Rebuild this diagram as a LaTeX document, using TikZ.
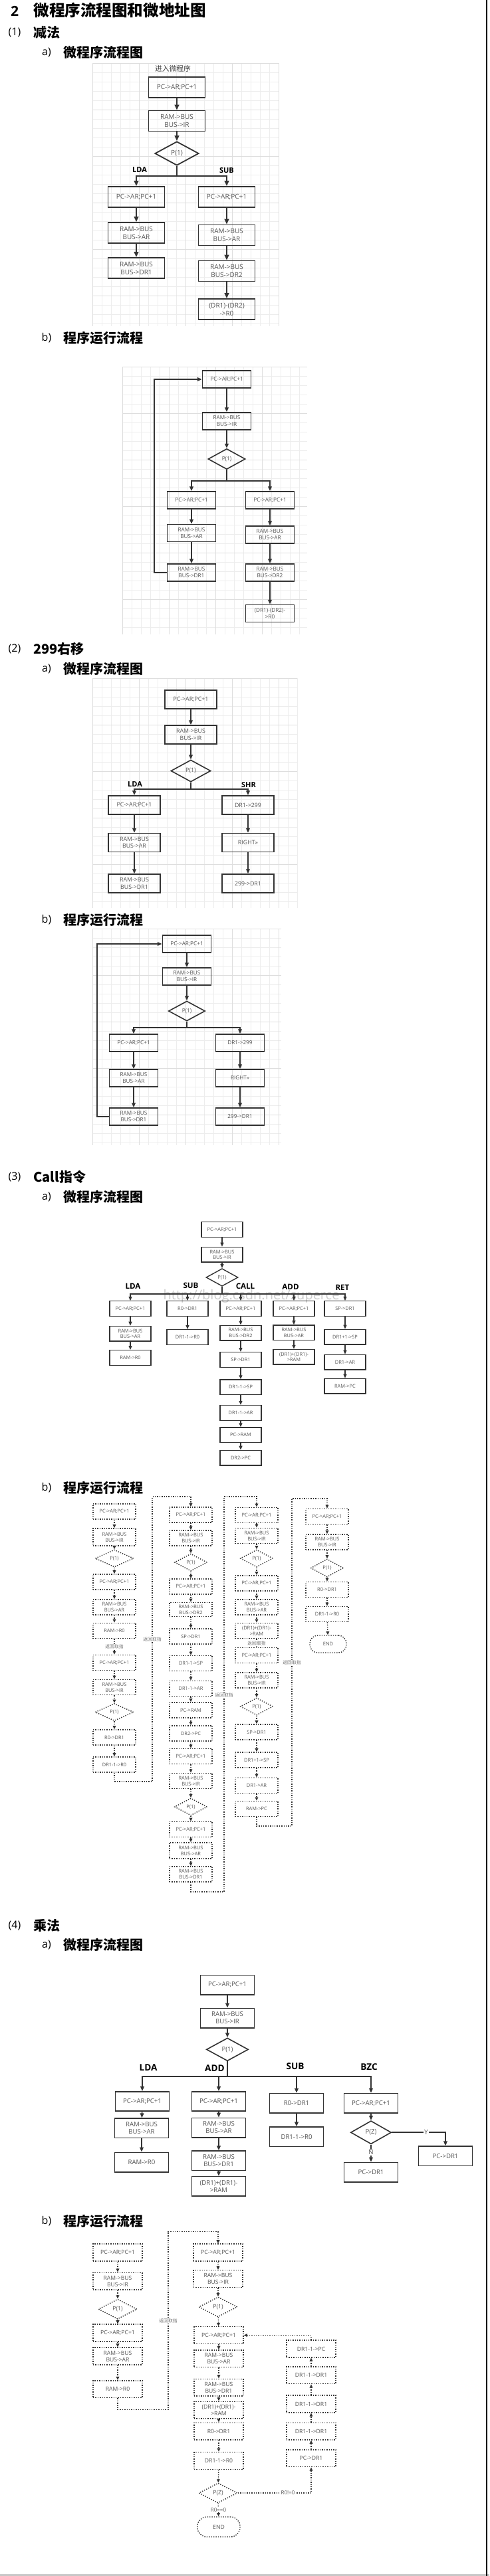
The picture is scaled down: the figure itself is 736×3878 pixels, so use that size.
\documentclass[tikz,border=0pt]{standalone}
\usepackage{fontspec}
\setmainfont{Open Sans}
\newfontfamily\cjk{Noto Sans CJK SC}
\usetikzlibrary{shapes.geometric,arrows.meta}
\definecolor{boxc}{HTML}{333333}
\definecolor{txtc}{HTML}{555555}
\newcommand\mygrid[5]{%
 \pgfmathsetmacro\gxa{#1+#5}\pgfmathsetmacro\gya{#2+#5}%
 \foreach \gx in {#1,\gxa,...,#3} \draw[black!7,line width=0.3pt] (\gx,#2) -- (\gx,#4);%
 \foreach \gy in {#2,\gya,...,#4} \draw[black!7,line width=0.3pt] (#1,\gy) -- (#3,\gy);%
 \pgfmathsetmacro\gxb{#1+5*#5}\pgfmathsetmacro\gyb{#2+5*#5}%
 \foreach \gx in {#1,\gxb,...,#3} \draw[black!13,line width=0.4pt] (\gx,#2) -- (\gx,#4);%
 \foreach \gy in {#2,\gyb,...,#4} \draw[black!13,line width=0.4pt] (#1,\gy) -- (#3,\gy);%
}
\tikzset{
 bx/.style={rectangle,draw=boxc,text=txtc,align=center,inner sep=0pt},
 dm/.style={diamond,draw=boxc,text=txtc,align=center,inner sep=0pt},
 ln/.style={draw=boxc},
 arA/.style={draw=boxc,line width=0.9pt,-{Triangle[length=4pt,width=3.4pt]}},
 arB/.style={draw=boxc,line width=0.8pt,-{Triangle[length=3.4pt,width=2.8pt]}},
 arC/.style={draw=boxc,line width=0.6pt,-{Triangle[length=3pt,width=2.5pt]}},
 arD/.style={draw=boxc,line width=0.7pt,densely dotted,-{Triangle[length=2.6pt,width=2.3pt]}},
 lnD/.style={draw=boxc,line width=0.7pt,densely dotted},
 sa/.style={bx,line width=0.9pt,minimum width=42.5pt,minimum height=15.5pt,font=\fontsize{5}{6}\selectfont},
 sad/.style={dm,line width=0.9pt,minimum width=33pt,minimum height=18pt,font=\fontsize{5}{6}\selectfont},
 sb/.style={bx,line width=0.8pt,minimum width=36.5pt,minimum height=13pt,font=\fontsize{4.1}{5}\selectfont},
 sbd/.style={dm,line width=0.8pt,minimum width=28pt,minimum height=15.5pt,font=\fontsize{4.1}{5}\selectfont},
 sc/.style={bx,line width=0.8pt,minimum width=39pt,minimum height=14pt,font=\fontsize{4.4}{5.3}\selectfont},
 scd/.style={dm,line width=0.8pt,minimum width=30pt,minimum height=16.5pt,font=\fontsize{4.4}{5.3}\selectfont},
 sd/.style={bx,line width=0.7pt,minimum width=31pt,minimum height=11.3pt,font=\fontsize{3.7}{4.2}\selectfont},
 sdd/.style={dm,line width=0.7pt,minimum width=24pt,minimum height=13.3pt,font=\fontsize{3.7}{4.2}\selectfont},
 se/.style={bx,line width=0.7pt,densely dotted,minimum width=32pt,minimum height=11.5pt,font=\fontsize{3.7}{4.5}\selectfont},
 sed/.style={dm,line width=0.7pt,densely dotted,minimum width=24.5pt,minimum height=13pt,font=\fontsize{3.7}{4.5}\selectfont},
 sf/.style={bx,line width=0.8pt,minimum width=40.5pt,minimum height=14.7pt,font=\fontsize{4.8}{5.5}\selectfont},
 sfd/.style={dm,line width=0.8pt,minimum width=31.5pt,minimum height=17.3pt,font=\fontsize{4.8}{5.5}\selectfont},
 sg/.style={bx,line width=0.7pt,densely dotted,minimum width=37pt,minimum height=12.9pt,font=\fontsize{4.3}{5}\selectfont},
 sgd/.style={dm,line width=0.7pt,densely dotted,minimum width=29pt,minimum height=15pt,font=\fontsize{4.3}{5}\selectfont},
 labA/.style={font=\bfseries\fontsize{5.5}{6}\selectfont,text=black},
 labB/.style={font=\bfseries\fontsize{5.8}{6.5}\selectfont,text=black},
 labC/.style={font=\bfseries\fontsize{6.8}{7.5}\selectfont,text=black},
 back/.style={font=\cjk\fontsize{3.4}{4}\selectfont,text=black!55,fill=white,inner sep=0.5pt},
 small/.style={font=\fontsize{4.3}{5}\selectfont,text=txtc,fill=white,inner sep=0.5pt},
 hnum/.style={font=\fontsize{8}{9}\selectfont,text=black,inner sep=0pt},
 hcj/.style={font=\cjk\bfseries\fontsize{10}{11}\selectfont,text=black,anchor=west,inner sep=0pt},
}
\begin{document}
\begin{tikzpicture}[x=0.5pt,y=-0.5pt]
\useasboundingbox (0,0) rectangle (736,3878);
\fill[white] (0,0) rectangle (736,3878);

% ===== headings =====
\node[font=\bfseries\fontsize{10.5}{11}\selectfont] (h0n) at (22,17) {2};
\node[font=\cjk\bfseries\fontsize{11.8}{12}\selectfont,anchor=west,inner sep=0pt] (h0) at (50,15) {微程序流程图和微地址图};
\node[hnum] (h1n) at (22,49) {(1)};
\node[hcj] (h1) at (50,49) {减法};
\node[hnum] (h1an) at (70,79) {a)};
\node[hcj] (h1a) at (95,79) {微程序流程图};
\node[hnum] (h1bn) at (70,509) {b)};
\node[hcj] (h1b) at (95,509) {程序运行流程};
\node[hnum] (h2n) at (22,977) {(2)};
\node[hcj] (h2) at (50,977) {299右移};
\node[hnum] (h2an) at (70,1007) {a)};
\node[hcj] (h2a) at (95,1007) {微程序流程图};
\node[hnum] (h2bn) at (70,1385) {b)};
\node[hcj] (h2b) at (95,1385) {程序运行流程};
\node[hnum] (h3n) at (22,1772) {(3)};
\node[hcj] (h3) at (50,1772) {Call指令};
\node[hnum] (h3an) at (70,1802) {a)};
\node[hcj] (h3a) at (95,1802) {微程序流程图};
\node[hnum] (h3bn) at (70,2240) {b)};
\node[hcj] (h3b) at (95,2240) {程序运行流程};
\node[hnum] (h4n) at (22,2899) {(4)};
\node[hcj] (h4) at (50,2899) {乘法};
\node[hnum] (h4an) at (70,2928) {a)};
\node[hcj] (h4a) at (95,2928) {微程序流程图};
\node[hnum] (h4bn) at (70,3344) {b)};
\node[hcj] (h4b) at (95,3344) {程序运行流程};

% ===== (1) a =====
\mygrid{139}{95}{419}{491}{14}
\node[font=\cjk\fontsize{5.4}{6}\selectfont,text=black!75] (in1) at (260,103) {进入微程序};
\node[sa] (a1) at (266,131.5) {PC->AR;PC+1};
\node[sa] (b1) at (266,182) {RAM->BUS\\BUS->IR};
\node[sad] (d1) at (266,231) {P(1)};
\node[sa] (l11) at (205,296.5) {PC->AR;PC+1};
\node[sa] (l12) at (205,350.5) {RAM->BUS\\BUS->AR};
\node[sa] (l13) at (205,403.5) {RAM->BUS\\BUS->DR1};
\node[sa] (r11) at (341,296.5) {PC->AR;PC+1};
\node[sa] (r12) at (341,354) {RAM->BUS\\BUS->AR};
\node[sa] (r13) at (341,408) {RAM->BUS\\BUS->DR2};
\node[sa] (r14) at (341,465.5) {(DR1)-(DR2)\\->R0};
\node[labA] (lda1) at (210,256) {LDA};
\node[labA] (sub1) at (341,257) {SUB};
\coordinate (j1) at (266,265);
\draw[arA] (a1) -- (b1);
\draw[arA] (b1) -- (d1);
\draw[ln,line width=0.9pt] (d1) -- (j1);
\draw[arA] (j1) -| (l11);
\draw[arA] (j1) -| (r11);
\draw[arA] (l11) -- (l12);
\draw[arA] (l12) -- (l13);
\draw[arA] (r11) -- (r12);
\draw[arA] (r12) -- (r13);
\draw[arA] (r13) -- (r14);

% ===== (1) b =====
\mygrid{184}{552}{462}{955}{14}
\node[sb] (a1b) at (341,571) {PC->AR;PC+1};
\node[sb] (b1b) at (341,634) {RAM->BUS\\BUS->IR};
\node[sbd] (d1b) at (341,691) {P(1)};
\node[sb] (l1b1) at (288,753) {PC->AR;PC+1};
\node[sb] (l1b2) at (288,802.5) {RAM->BUS\\BUS->AR};
\node[sb] (l1b3) at (288,862) {RAM->BUS\\BUS->DR1};
\node[sb] (r1b1) at (406,753) {PC->AR;PC+1};
\node[sb] (r1b2) at (406,805) {RAM->BUS\\BUS->AR};
\node[sb] (r1b3) at (406,862) {RAM->BUS\\BUS->DR2};
\node[sb] (r1b4) at (406,923.5) {(DR1)-(DR2)-\\>R0};
\coordinate (j1b) at (341,724);
\draw[arB] (a1b) -- (b1b);
\draw[arB] (b1b) -- (d1b);
\draw[ln,line width=0.8pt] (d1b) -- (j1b);
\draw[arB] (j1b) -| (l1b1);
\draw[arB] (j1b) -| (r1b1);
\draw[arB] (l1b1) -- (l1b2);
\draw[arB] (l1b2) -- (l1b3);
\draw[arB] (r1b1) -- (r1b2);
\draw[arB] (r1b2) -- (r1b3);
\draw[arB] (r1b3) -- (r1b4);
\draw[arB] (l1b3.west) -- ++(-19,0) |- (a1b.west);

% ===== (2) a =====
\mygrid{139}{1021}{447}{1367}{14}
\node[sc] (a2) at (287,1053) {PC->AR;PC+1};
\node[sc] (b2) at (287,1106) {RAM->BUS\\BUS->IR};
\node[scd] (d2) at (287,1160.5) {P(1)};
\node[sc] (l21) at (202,1212) {PC->AR;PC+1};
\node[sc] (l22) at (202,1268.5) {RAM->BUS\\BUS->AR};
\node[sc] (l23) at (202,1330) {RAM->BUS\\BUS->DR1};
\node[sc] (r21) at (373,1212) {DR1->299};
\node[sc] (r22) at (373,1268.5) {RIGHT>>};
\node[sc] (r23) at (373,1330) {299->DR1};
\node[labA] (lda2) at (203,1181) {LDA};
\node[labA] (shr2) at (374,1182) {SHR};
\coordinate (j2) at (287,1188);
\draw[arB] (a2) -- (b2);
\draw[arB] (b2) -- (d2);
\draw[ln,line width=0.8pt] (d2) -- (j2);
\draw[arB] (j2) -| (l21);
\draw[arB] (j2) -| (r21);
\draw[arB] (l21) -- (l22);
\draw[arB] (l22) -- (l23);
\draw[arB] (r21) -- (r22);
\draw[arB] (r22) -- (r23);

% ===== (2) b =====
\mygrid{139}{1398}{423}{1724}{14}
\node[sb] (a2b) at (281,1421) {PC->AR;PC+1};
\node[sb] (b2b) at (281,1470) {RAM->BUS\\BUS->IR};
\node[sbd,minimum width=27.5pt,minimum height=15pt] (d2b) at (281,1522) {P(1)};
\node[sb] (l2b1) at (201,1570) {PC->AR;PC+1};
\node[sb] (l2b2) at (201,1623) {RAM->BUS\\BUS->AR};
\node[sb] (l2b3) at (201,1681) {RAM->BUS\\BUS->DR1};
\node[sb] (r2b1) at (361,1570) {DR1->299};
\node[sb] (r2b2) at (361,1623) {RIGHT>>};
\node[sb] (r2b3) at (361,1681) {299->DR1};
\coordinate (j2b) at (281,1547);
\draw[arB] (a2b) -- (b2b);
\draw[arB] (b2b) -- (d2b);
\draw[ln,line width=0.8pt] (d2b) -- (j2b);
\draw[arB] (j2b) -| (l2b1);
\draw[arB] (j2b) -| (r2b1);
\draw[arB] (l2b1) -- (l2b2);
\draw[arB] (l2b2) -- (l2b3);
\draw[arB] (r2b1) -- (r2b2);
\draw[arB] (r2b2) -- (r2b3);
\draw[arB] (l2b3.west) -- ++(-18,0) |- (a2b.west);

% ===== (3) a =====
\node[font=\rmfamily\fontsize{10}{10}\selectfont,text=black!20] (wm) at (378,1951) {http://blog.csdn.net/superce};
\node[sd] (a3) at (334,1851) {PC->AR;PC+1};
\node[sd] (b3) at (334,1888.7) {RAM->BUS\\BUS->IR};
\node[sdd] (d3) at (334,1923) {P(1)};
\node[sd] (la1) at (196,1970) {PC->AR;PC+1};
\node[sd] (la2) at (196,2007.7) {RAM->BUS\\BUS->AR};
\node[sd] (la3) at (196,2044) {RAM->R0};
\node[sd] (su1) at (282,1970) {R0->DR1};
\node[sd] (su2) at (282,2013) {DR1-1->R0};
\node[sd] (ca1) at (362,1970) {PC->AR;PC+1};
\node[sd] (ca2) at (362,2006.5) {RAM->BUS\\BUS->DR2};
\node[sd] (ca3) at (362,2047) {SP->DR1};
\node[sd] (ca4) at (362,2088.3) {DR1-1->SP};
\node[sd] (ca5) at (362,2127) {DR1-1->AR};
\node[sd] (ca6) at (362,2160.3) {PC->RAM};
\node[sd] (ca7) at (362,2194.7) {DR2->PC};
\node[sd] (ad1) at (442,1970) {PC->AR;PC+1};
\node[sd] (ad2) at (442,2006.2) {RAM->BUS\\BUS->AR};
\node[sd] (ad3) at (442,2042.8) {(DR1)+(DR1)-\\>RAM};
\node[sd] (re1) at (519,1970) {SP->DR1};
\node[sd] (re2) at (519,2012.7) {DR1+1->SP};
\node[sd] (re3) at (519,2050.7) {DR1->AR};
\node[sd] (re4) at (519,2086.7) {RAM->PC};
\node[labB] (lda3) at (200,1936.7) {LDA};
\node[labB] (sub3) at (287,1935.7) {SUB};
\node[labB] (call3) at (369,1936.7) {CALL};
\node[labB] (add3) at (437,1937.3) {ADD};
\node[labB] (ret3) at (515,1938) {RET};
\coordinate (j3) at (334,1948);
\draw[arC] (a3) -- (b3);
\draw[arC] (b3) -- (d3);
\draw[ln,line width=0.7pt] (d3) -- (j3);
\draw[arC] (j3) -| (la1);
\draw[arC] (j3) -| (su1);
\draw[arC] (j3) -| (ca1);
\draw[arC] (j3) -| (ad1);
\draw[arC] (j3) -| (re1);
\draw[arC] (la1) -- (la2);
\draw[arC] (la2) -- (la3);
\draw[arC] (su1) -- (su2);
\draw[arC] (ca1) -- (ca2);
\draw[arC] (ca2) -- (ca3);
\draw[arC] (ca3) -- (ca4);
\draw[arC] (ca4) -- (ca5);
\draw[arC] (ca5) -- (ca6);
\draw[arC] (ca6) -- (ca7);
\draw[arC] (ad1) -- (ad2);
\draw[arC] (ad2) -- (ad3);
\draw[arC] (re1) -- (re2);
\draw[arC] (re2) -- (re3);
\draw[arC] (re3) -- (re4);

% ===== (3) b =====
\node[se] (c1a) at (172,2275.5) {PC->AR;PC+1};
\node[se,minimum height=13pt] (c1b) at (172,2314) {RAM->BUS\\BUS->IR};
\node[sed,minimum width=29pt] (c1c) at (172,2346) {P(1)};
\node[se] (c1d) at (172,2381.5) {PC->AR;PC+1};
\node[se] (c1e) at (172,2419.5) {RAM->BUS\\BUS->AR};
\node[se] (c1f) at (172,2455) {RAM->R0};
\node[se] (c1g) at (172,2503) {PC->AR;PC+1};
\node[se] (c1h) at (172,2540) {RAM->BUS\\BUS->IR};
\node[sed,minimum width=29pt] (c1i) at (172,2577.5) {P(1)};
\node[se] (c1j) at (172,2615.5) {R0->DR1};
\node[se] (c1k) at (172,2656.5) {DR1-1->R0};
\node[se] (c2a) at (287,2280.5) {PC->AR;PC+1};
\node[se] (c2b) at (287,2315.5) {RAM->BUS\\BUS->IR};
\node[sed] (c2c) at (287,2352) {P(1)};
\node[se] (c2d) at (287,2388.5) {PC->AR;PC+1};
\node[se,minimum height=10.5pt] (c2e) at (287,2423) {RAM->BUS\\BUS->DR2};
\node[se] (c2f) at (287,2463.5) {SP->DR1};
\node[se] (c2g) at (287,2504) {DR1-1->SP};
\node[se] (c2h) at (287,2542) {DR1-1->AR};
\node[se] (c2i) at (287,2574.5) {PC->RAM};
\node[se] (c2j) at (287,2609.5) {DR2->PC};
\node[se] (c2k) at (287,2644) {PC->AR;PC+1};
\node[se] (c2l) at (287,2681) {RAM->BUS\\BUS->IR};
\node[sed] (c2m) at (287,2720) {P(1)};
\node[se] (c2n) at (287,2754) {PC->AR;PC+1};
\node[se,minimum height=12pt] (c2o) at (287,2786) {RAM->BUS\\BUS->AR};
\node[se] (c2p) at (287,2821.5) {RAM->BUS\\BUS->DR1};
\node[se] (c3a) at (386,2281) {PC->AR;PC+1};
\node[se] (c3b) at (386,2312) {RAM->BUS\\BUS->IR};
\node[sed] (c3c) at (386,2346) {P(1)};
\node[se] (c3d) at (386,2383.5) {PC->AR;PC+1};
\node[se] (c3e) at (386,2419.5) {RAM->BUS\\BUS->AR};
\node[se] (c3f) at (386,2455) {(DR1)+(DR1)-\\>RAM};
\node[se] (c3g) at (386,2492) {PC->AR;PC+1};
\node[se] (c3h) at (386,2529.5) {RAM->BUS\\BUS->IR};
\node[sed] (c3i) at (386,2569) {P(1)};
\node[se] (c3j) at (386,2607.5) {SP->DR1};
\node[se] (c3k) at (386,2649.5) {DR1+1->SP};
\node[se] (c3l) at (386,2688) {DR1->AR};
\node[se] (c3m) at (386,2723) {RAM->PC};
\node[se] (c4a) at (492,2283) {PC->AR;PC+1};
\node[se] (c4b) at (492,2321.5) {RAM->BUS\\BUS->IR};
\node[sed,minimum height=13.5pt] (c4c) at (492,2360.5) {P(1)};
\node[se] (c4d) at (492,2393) {R0->DR1};
\node[se] (c4e) at (492,2430) {DR1-1->R0};
\node[se,rounded corners=6pt,minimum width=27.5pt,minimum height=13pt] (c4f) at (493.5,2475) {END};
\draw[arD] (c1a) -- (c1b);
\draw[arD] (c1b) -- (c1c);
\draw[arD] (c1c) -- (c1d);
\draw[arD] (c1d) -- (c1e);
\draw[arD] (c1e) -- (c1f);
\draw[arD] (c1f) -- (c1g) node[back,midway] (rb1) {返回取指};
\draw[arD] (c1g) -- (c1h);
\draw[arD] (c1h) -- (c1i);
\draw[arD] (c1i) -- (c1j);
\draw[arD] (c1j) -- (c1k);
\coordinate (q1a) at (229,2682);
\coordinate (q1b) at (229,2253);
\draw[arD] (c1k.south) |- (q1a) -- (q1b) -| (c2a.north);
\node[back] (rb2) at (229,2468) {返回取指};
\draw[arD] (c2a) -- (c2b);
\draw[arD] (c2b) -- (c2c);
\draw[arD] (c2c) -- (c2d);
\draw[arD] (c2d) -- (c2e);
\draw[arD] (c2e) -- (c2f);
\draw[arD] (c2f) -- (c2g);
\draw[arD] (c2g) -- (c2h);
\draw[arD] (c2h) -- (c2i);
\draw[arD] (c2i) -- (c2j);
\draw[arD] (c2j) -- (c2k);
\draw[arD] (c2k) -- (c2l);
\draw[arD] (c2l) -- (c2m);
\draw[arD] (c2m) -- (c2n);
\draw[arD] (c2n) -- (c2o);
\draw[arD] (c2o) -- (c2p);
\coordinate (q2a) at (337,2848);
\coordinate (q2b) at (337,2253);
\draw[arD] (c2p.south) |- (q2a) -- (q2b) -| (c3a.north);
\node[back] (rb3) at (337,2552) {返回取指};
\draw[arD] (c3a) -- (c3b);
\draw[arD] (c3b) -- (c3c);
\draw[arD] (c3c) -- (c3d);
\draw[arD] (c3d) -- (c3e);
\draw[arD] (c3e) -- (c3f);
\draw[arD] (c3f) -- (c3g) node[back,midway] (rb4) {返回取指};
\draw[arD] (c3g) -- (c3h);
\draw[arD] (c3h) -- (c3i);
\draw[arD] (c3i) -- (c3j);
\draw[arD] (c3j) -- (c3k);
\draw[arD] (c3k) -- (c3l);
\draw[arD] (c3l) -- (c3m);
\coordinate (q3a) at (439,2749);
\coordinate (q3b) at (439,2256);
\draw[arD] (c3m.south) |- (q3a) -- (q3b) -| (c4a.north);
\node[back] (rb5) at (439,2503) {返回取指};
\draw[arD] (c4a) -- (c4b);
\draw[arD] (c4b) -- (c4c);
\draw[arD] (c4c) -- (c4d);
\draw[arD] (c4d) -- (c4e);
\draw[arD] (c4e) -- (c4f);

% ===== (4) a =====
\node[sf] (a4) at (342,2988) {PC->AR;PC+1};
\node[sf] (b4) at (342,3038) {RAM->BUS\\BUS->IR};
\node[sfd] (d4) at (342,3085.3) {P(1)};
\node[sf] (m11) at (214,3163.5) {PC->AR;PC+1};
\node[sf] (m12) at (213,3203.7) {RAM->BUS\\BUS->AR};
\node[sf] (m13) at (213,3255) {RAM->R0};
\node[sf] (m21) at (329,3163.5) {PC->AR;PC+1};
\node[sf] (m22) at (329,3203) {RAM->BUS\\BUS->AR};
\node[sf] (m23) at (329,3252.7) {RAM->BUS\\BUS->DR1};
\node[sf] (m24) at (329,3291.3) {(DR1)+(DR1)-\\>RAM};
\node[sf] (m31) at (446,3166.2) {R0->DR1};
\node[sf] (m32) at (446,3216.7) {DR1-1->R0};
\node[sf] (m41) at (558,3166.2) {PC->AR;PC+1};
\node[sfd,minimum width=30.5pt,minimum height=17.5pt] (m42) at (558,3210.2) {P(Z)};
\node[sf] (m43) at (558,3270.2) {PC->DR1};
\node[sf] (m44) at (670,3245.7) {PC->DR1};
\node[labC] (lda4) at (223,3112.3) {LDA};
\node[labC] (add4) at (323,3113.3) {ADD};
\node[labC] (sub4) at (444,3110.7) {SUB};
\node[labC] (bzc4) at (555,3111.7) {BZC};
\coordinate (j4) at (342,3125.7);
\coordinate (y4) at (670,3210.2);
\draw[arB] (a4) -- (b4);
\draw[arB] (b4) -- (d4);
\draw[ln,line width=0.8pt] (d4) -- (j4);
\draw[arB] (j4) -| (m11);
\draw[arB] (j4) -| (m21);
\draw[arB] (j4) -| (m31);
\draw[arB] (j4) -| (m41);
\draw[arB] (m11) -- (m12);
\draw[arB] (m12) -- (m13);
\draw[arB] (m21) -- (m22);
\draw[arB] (m22) -- (m23);
\draw[arB] (m23) -- (m24);
\draw[arB] (m31) -- (m32);
\draw[arB] (m41) -- (m42);
\draw[arB] (m42) -- (m43) node[small,pos=0.45,font=\fontsize{5}{6}\selectfont] (nl) {N};
\draw[arB] (m42.east) -- (y4) -- (m44);
\node[small,font=\fontsize{5}{6}\selectfont] (yl) at (641,3210.2) {Y};

% ===== (4) b =====
\node[sg] (n1a) at (177,3391) {PC->AR;PC+1};
\node[sg] (n1b) at (177,3434.2) {RAM->BUS\\BUS->IR};
\node[sgd] (n1c) at (177,3476.2) {P(1)};
\node[sg] (n1d) at (177,3512) {PC->AR;PC+1};
\node[sg] (n1e) at (177,3547) {RAM->BUS\\BUS->AR};
\node[sg] (n1f) at (177,3596.7) {RAM->R0};
\node[sg] (n2a) at (328,3391) {PC->AR;PC+1};
\node[sg] (n2b) at (328,3430.5) {RAM->BUS\\BUS->IR};
\node[sgd] (n2c) at (328,3472.9) {P(1)};
\node[sg] (n2d) at (329,3515.6) {PC->AR;PC+1};
\node[sg] (n2e) at (329,3550.7) {RAM->BUS\\BUS->AR};
\node[sg] (n2f) at (329,3594.2) {RAM->BUS\\BUS->DR1};
\node[sg] (n2g) at (329,3628.1) {(DR1)+(DR1)-\\>RAM};
\node[sg] (n2h) at (329,3660.1) {R0->DR1};
\node[sg] (n2i) at (329,3704.4) {DR1-1->R0};
\node[sgd] (n2j) at (328,3753) {P(Z)};
\node[sg,rounded corners=7pt,minimum width=32pt,minimum height=15pt] (n2k) at (329,3804) {END};
\node[sg] (n3a) at (468,3700.7) {PC->DR1};
\node[sg] (n3b) at (468,3660.1) {DR1-1->DR1};
\node[sg] (n3c) at (468,3618.9) {DR1-1->DR1};
\node[sg] (n3d) at (468,3575.7) {DR1-1->DR1};
\node[sg] (n3e) at (468,3535.9) {DR1-1->PC};
\draw[arD] (n1a) -- (n1b);
\draw[arD] (n1b) -- (n1c);
\draw[arD] (n1c) -- (n1d);
\draw[arD] (n1d) -- (n1e);
\draw[arD] (n1e) -- (n1f);
\coordinate (p1a) at (253,3627.3);
\coordinate (p1b) at (253,3359.7);
\draw[arD] (n1f.south) |- (p1a) -- (p1b) -| (n2a.north);
\node[back] (rb6) at (253,3494.3) {返回取指};
\draw[arD] (n2a) -- (n2b);
\draw[arD] (n2b) -- (n2c);
\draw[arD] (n2c) -- (n2d);
\draw[arD] (n2d) -- (n2e);
\draw[arD] (n2e) -- (n2f);
\draw[arD] (n2f) -- (n2g);
\draw[arD] (n2g) -- (n2h);
\draw[arD] (n2h) -- (n2i);
\draw[arD] (n2i) -- (n2j);
\draw[arD] (n2j) -- (n2k) node[small,midway,font=\fontsize{4}{4.5}\selectfont] (r0e) {R0==0};
\coordinate (p2) at (468,3753);
\draw[arD] (n2j.east) -- (p2) -- (n3a);
\node[small,font=\fontsize{4}{4.5}\selectfont] (r0n) at (433,3753) {R0!=0};
\draw[arD] (n3a) -- (n3b);
\draw[arD] (n3b) -- (n3c);
\draw[arD] (n3c) -- (n3d);
\draw[arD] (n3d) -- (n3e);
\draw[arD] (n3e.north) |- (n2d.east);

% page frame lines
\draw[black,line width=0.8pt] (732,0) -- (732,3878);
\draw[black,line width=0.8pt] (0,3876.5) -- (736,3876.5);
\end{tikzpicture}
\end{document}
